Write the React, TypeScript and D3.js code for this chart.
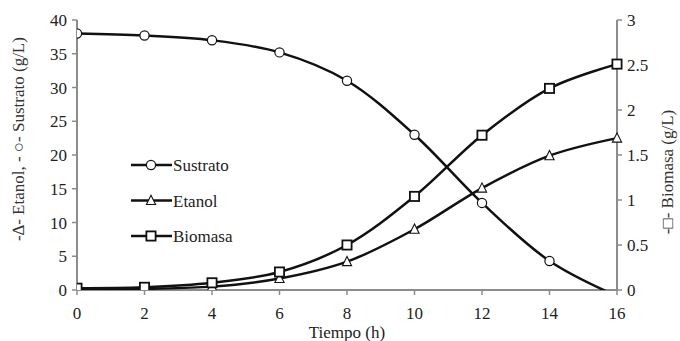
import React from 'react';
import * as d3 from 'd3';

const tiempo = [0, 2, 4, 6, 8, 10, 12, 14, 16];
const sustrato = [38, 37.7, 37, 35.2, 31, 23, 12.9, 4.3, -0.9];
const etanol = [0.1, 0.2, 0.5, 1.7, 4.2, 9, 15.1, 19.9, 22.5];
const biomasa = [0.02, 0.03, 0.08, 0.2, 0.5, 1.04, 1.72, 2.24, 2.51];
const leftTicks = [0, 5, 10, 15, 20, 25, 30, 35, 40];
const rightTicks = [0, 0.5, 1, 1.5, 2, 2.5, 3];
const xTicks = [0, 2, 4, 6, 8, 10, 12, 14, 16];

const width = 680;
const height = 341;
const left = 77, right = 617, top = 20, bottom = 290;
const font = 'Liberation Serif';
const axisColor = '#8c8c8c';
const ink = '#111';

const x = d3.scaleLinear().domain([0, 16]).range([left, right]);
const yL = d3.scaleLinear().domain([0, 40]).range([bottom, top]);
const yR = d3.scaleLinear().domain([0, 3]).range([bottom, top]);

const series = [
  { name: 'Sustrato', values: sustrato, y: yL, marker: 'circle' },
  { name: 'Etanol', values: etanol, y: yL, marker: 'triangle' },
  { name: 'Biomasa', values: biomasa, y: yR, marker: 'square' },
];

const Marker = ({ type, cx, cy }: { type: string; cx: number; cy: number }) => {
  if (type === 'circle') {
    return <circle cx={cx} cy={cy} r={4.6} fill="white" stroke={ink} strokeWidth={1.2} />;
  }
  if (type === 'triangle') {
    return <path d={`M${cx},${cy - 5.2}L${cx + 4.6},${cy + 4}L${cx - 4.6},${cy + 4}Z`}
      fill="white" stroke={ink} strokeWidth={1.1} />;
  }
  return <rect x={cx - 4.6} y={cy - 4.6} width={9.2} height={9.2} fill="white" stroke={ink} strokeWidth={1.8} />;
};

const T = (props: any) => (
  <text fontFamily={font} fontSize={17} fill="#222" {...props} style={{ fontFamily: font }} />
);

const App = () => {
  return (
    <svg width={width} height={height} fontFamily={font}
      style={{ position: 'absolute', left: 0, top: 0, background: 'white', fontFamily: font }}>
      <defs>
        <clipPath id="plotclip">
          <rect x={left} y={top - 10} width={right - left + 10} height={bottom - top + 10} />
        </clipPath>
      </defs>

      {/* x axis */}
      <line x1={left} x2={right} y1={bottom} y2={bottom} stroke={axisColor} strokeWidth={2} />
      {xTicks.map(t => (
        <g key={'x' + t}>
          <line x1={x(t)} x2={x(t)} y1={bottom} y2={bottom + 5} stroke={axisColor} strokeWidth={1.5} />
          <T x={x(t)} y={bottom + 29} textAnchor="middle">{t}</T>
        </g>
      ))}

      {/* left axis */}
      <line x1={left} x2={left} y1={top} y2={bottom} stroke={axisColor} strokeWidth={2} />
      {leftTicks.map(t => (
        <g key={'l' + t}>
          <line x1={left - 5} x2={left} y1={yL(t)} y2={yL(t)} stroke={axisColor} strokeWidth={1.5} />
          <T x={left - 10} y={yL(t) + 6} textAnchor="end">{t}</T>
        </g>
      ))}

      {/* right axis */}
      <line x1={right} x2={right} y1={top} y2={bottom} stroke={axisColor} strokeWidth={2} />
      {rightTicks.map(t => (
        <g key={'r' + t}>
          <line x1={right} x2={right + 5} y1={yR(t)} y2={yR(t)} stroke={axisColor} strokeWidth={1.5} />
          <T x={right + 10} y={yR(t) + 6} textAnchor="start">{t}</T>
        </g>
      ))}

      {/* titles */}
      <T transform={`translate(24,${(top + bottom) / 2 - 16}) rotate(-90)`} textAnchor="middle"
        fill="#333">-∆- Etanol, - ○- Sustrato (g/L)</T>
      <T transform={`translate(673,${(top + bottom) / 2 + 17}) rotate(-90)`} textAnchor="middle"
        fill="#333">-□- Biomasa (g/L)</T>
      <T x={(left + right) / 2} y={338} textAnchor="middle">Tiempo (h)</T>

      {/* series */}
      <g clipPath="url(#plotclip)">
        {series.map(s => {
          const line = d3.line<number>()
            .x((d, i) => x(tiempo[i]))
            .y(d => s.y(d))
            .curve(d3.curveCatmullRom.alpha(0.5));
          return <path key={s.name} d={line(s.values) || ''} fill="none" stroke={ink} strokeWidth={2.5} />;
        })}
        {series.map(s => s.values.map((v, i) => v < 0 ? null : (
          <Marker key={s.name + i} type={s.marker} cx={x(tiempo[i])} cy={s.y(v)} />
        )))}
      </g>

      {/* legend */}
      {series.map((s, i) => {
        const ly = 165 + i * 35.5;
        return (
          <g key={'lg' + s.name}>
            <line x1={131} x2={172} y1={ly} y2={ly} stroke={ink} strokeWidth={2.5} />
            <Marker type={s.marker} cx={151} cy={ly} />
            <T x={173} y={ly + 6}>{s.name}</T>
          </g>
        );
      })}
    </svg>
  );
};

export default App;
